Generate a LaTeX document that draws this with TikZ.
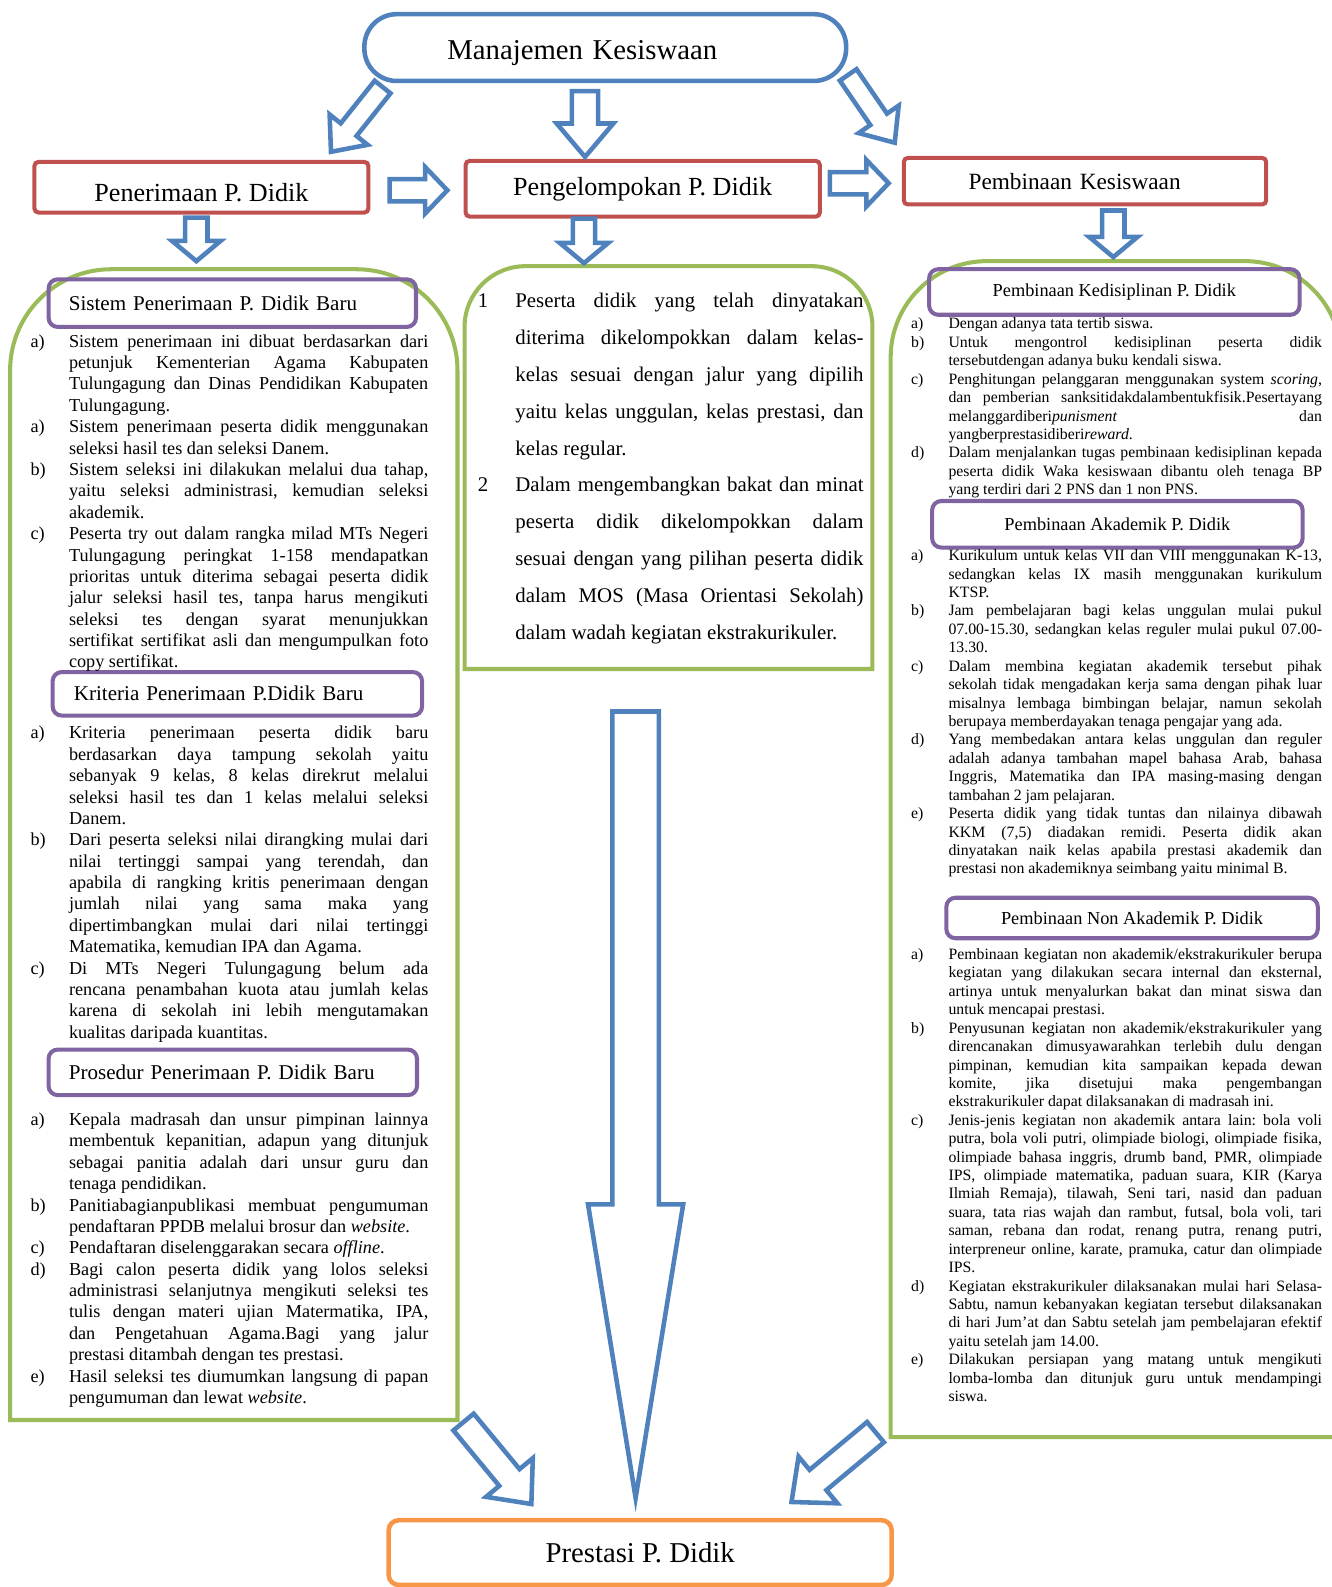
\documentclass[tikz,border=0pt]{standalone}
\usepackage{fontspec}
\setmainfont{Liberation Serif}
\usetikzlibrary{positioning,calc}
\definecolor{biru}{HTML}{4F81BD}
\definecolor{merah}{HTML}{C0504D}
\definecolor{hijau}{HTML}{9BBB59}
\definecolor{ungu}{HTML}{8064A2}
\definecolor{oranye}{HTML}{F79646}
\tikzset{
  kotak/.style={draw=merah,line width=4pt,rounded corners=4pt,fill=white,inner sep=0pt,font=\fontsize{25.8}{30}\selectfont},
  subjudul/.style={draw=ungu,line width=4pt,rounded corners=9pt,inner sep=0pt,align=center,minimum width=366pt,font=\fontsize{18.1}{21}\selectfont},
  subkiri/.style={subjudul,align=left,font=\fontsize{20.8}{24}\selectfont},
  wadah/.style={draw=hijau,line width=4pt},
  panah/.style={draw=biru,line width=4.5pt,fill=white,line join=miter},
  isi/.style={inner sep=0pt,anchor=base west},
}
\newlength\jorok
\newcommand\butir[2]{\par\noindent\hangindent=\jorok\makebox[\jorok][l]{#1}#2\par}
\newcommand\fkiri{\fontsize{18}{21.13}\selectfont\setlength\jorok{38pt}}
\newcommand\ftengah{\fontsize{20.6}{36.4}\selectfont\setlength\jorok{37pt}}
\newcommand\fkanan{\fontsize{15.6}{18.2}\selectfont\setlength\jorok{37pt}}
% #1 dari, #2 ke, #3 setengah batang, #4 setengah kepala, #5 panjang kepala
\newcommand\panahblok[5]{%
  \draw[panah] let \p1=($(#2)-(#1)$),\n1={atan2(\y1,\x1)},\n2={veclen(\x1,\y1)} in
    [shift={(#1)},rotate=\n1]
    (0pt,-#3pt) -- ({\n2-#5pt},-#3pt) -- ({\n2-#5pt},-#4pt) -- ({\n2+0pt},0pt)
    -- ({\n2-#5pt},#4pt) -- ({\n2-#5pt},#3pt) -- (0pt,#3pt) -- cycle;}
\hyphenpenalty=10000 \exhyphenpenalty=10000 \tolerance=10000 \hbadness=10000
\frenchspacing

\begin{document}
\begin{tikzpicture}[x=1pt,y=-1pt,
  judul/.style={draw=biru,line width=4.5pt,rounded corners=32pt,minimum width=476pt,minimum height=66pt,font=\fontsize{28.4}{32}\selectfont},
  hasil/.style={draw=oranye,line width=4.5pt,rounded corners=10pt,minimum width=497pt,minimum height=64pt,font=\fontsize{28.4}{32}\selectfont}]
  \useasboundingbox (0,0) rectangle (1316,1568);
  % wadah hijau
  \draw[wadah] (452,1403) -- (10,1403) -- (10,700) [rounded corners=100pt] -- (10,266) -- (452,266) -- (452,700) [sharp corners] -- cycle;
  \draw[wadah] (862,661) -- (459,661) -- (459,450) [rounded corners=60pt] -- (459,263) -- (862,263) -- (862,450) [sharp corners] -- cycle;
  \draw[wadah] (1325,1420) -- (880,1420) -- (880,800) [rounded corners=95pt] -- (880,258) -- (1325,258) -- (1325,800) [sharp corners] -- cycle;

  \node[judul,text width=312pt,align=left,text height=29.6pt,text depth=6.2pt] (mk) at (598,47) {Manajemen Kesiswaan};
  \node[kotak,minimum width=330pt,minimum height=50pt,text height=27.8pt,text depth=0pt] (terima) at (199,185) {Penerimaan P. Didik};
  \node[kotak,minimum width=350pt,minimum height=55pt] (kelompok) at (635,186.5) {Pengelompokan P. Didik};
  \node[kotak,minimum width=358pt,minimum height=46pt,text width=230pt,align=left,font=\fontsize{23}{27}\selectfont] (bina) at (1072,179) {Pembinaan Kesiswaan};
  \node[hasil] (prestasi) at (632.5,1534) {Prestasi P. Didik};

  \node[subkiri,minimum width=363pt,minimum height=47pt,text width=323pt] (sps) at (229.5,299.5) {Sistem Penerimaan P. Didik Baru};
  \node[subkiri,minimum width=365pt,minimum height=43pt,text width=323pt] (kps) at (234.5,685.5) {Kriteria Penerimaan P.Didik Baru};
  \node[subkiri,minimum width=364pt,minimum height=45pt,text width=324pt] (pps) at (230,1059.5) {Prosedur Penerimaan P. Didik Baru};
  \node[subjudul,minimum height=45pt] (pkd) at (1101,288.5) {Pembinaan Kedisiplinan P. Didik};
  \node[subjudul,minimum height=46pt] (pak) at (1104,518) {Pembinaan Akademik P. Didik};
  \node[subjudul,minimum width=367pt,minimum height=40pt] (pna) at (1118.5,907) {Pembinaan Non Akademik P. Didik};

  \node[isi] (tsps) at (30,343) {\begin{minipage}[t]{393pt}\fkiri
    \butir{a)}{Sistem penerimaan ini dibuat berdasarkan dari\linebreak petunjuk Kementerian Agama Kabupaten\linebreak Tulungagung dan Dinas Pendidikan Kabupaten\linebreak Tulungagung.}
    \butir{a)}{Sistem penerimaan peserta didik menggunakan\linebreak seleksi hasil tes dan seleksi Danem.}
    \butir{b)}{Sistem seleksi ini dilakukan melalui dua tahap,\linebreak yaitu seleksi administrasi, kemudian seleksi\linebreak akademik.}
    \butir{c)}{Peserta try out dalam rangka milad MTs Negeri\linebreak Tulungagung peringkat 1-158 mendapatkan\linebreak prioritas untuk diterima sebagai peserta didik\linebreak jalur seleksi hasil tes, tanpa harus mengikuti\linebreak seleksi tes dengan syarat menunjukkan\linebreak sertifikat sertifikat asli dan mengumpulkan foto\linebreak copy sertifikat.}
  \end{minipage}};
  \node[isi] (tkps) at (30,730) {\begin{minipage}[t]{393pt}\fkiri
    \butir{a)}{Kriteria penerimaan peserta didik baru\linebreak berdasarkan daya tampung sekolah yaitu\linebreak sebanyak 9 kelas, 8 kelas direkrut melalui\linebreak seleksi hasil tes dan 1 kelas melalui seleksi\linebreak Danem.}
    \butir{b)}{Dari peserta seleksi nilai dirangking mulai dari\linebreak nilai tertinggi sampai yang terendah, dan\linebreak apabila di rangking kritis penerimaan dengan\linebreak jumlah nilai yang sama maka yang\linebreak dipertimbangkan mulai dari nilai tertinggi\linebreak Matematika, kemudian IPA dan Agama.}
    \butir{c)}{Di MTs Negeri Tulungagung belum ada\linebreak rencana penambahan kuota atau jumlah kelas\linebreak karena di sekolah ini lebih mengutamakan\linebreak kualitas daripada kuantitas.}
  \end{minipage}};
  \node[isi] (tpps) at (30,1112) {\begin{minipage}[t]{393pt}\fkiri
    \butir{a)}{Kepala madrasah dan unsur pimpinan lainnya\linebreak membentuk kepanitian, adapun yang ditunjuk\linebreak sebagai panitia adalah dari unsur guru dan\linebreak tenaga pendidikan.}
    \butir{b)}{Panitiabagianpublikasi membuat pengumuman\linebreak pendaftaran PPDB melalui brosur dan \textit{website}.}
    \butir{c)}{Pendaftaran diselenggarakan secara \textit{offline}.}
    \butir{d)}{Bagi calon peserta didik yang lolos seleksi\linebreak administrasi selanjutnya mengikuti seleksi tes\linebreak tulis dengan materi ujian Matermatika, IPA,\linebreak dan Pengetahuan Agama.Bagi yang jalur\linebreak prestasi ditambah dengan tes prestasi.}
    \butir{e)}{Hasil seleksi tes diumumkan langsung di papan\linebreak pengumuman dan lewat \textit{website}.}
  \end{minipage}};
  \node[isi] (tkel) at (472,304) {\begin{minipage}[t]{381pt}\ftengah
    \butir{1}{Peserta didik yang telah dinyatakan\linebreak diterima dikelompokkan dalam kelas-\linebreak kelas sesuai dengan jalur yang dipilih\linebreak yaitu kelas unggulan, kelas prestasi, dan\linebreak kelas regular.}
    \butir{2}{Dalam mengembangkan bakat dan minat\linebreak peserta didik dikelompokkan dalam\linebreak sesuai dengan yang pilihan peserta didik\linebreak dalam MOS (Masa Orientasi Sekolah)\linebreak dalam wadah kegiatan ekstrakurikuler.}
  \end{minipage}};
  \node[isi] (tpkd) at (900,325) {\begin{minipage}[t]{406pt}\fkanan
    \butir{a)}{Dengan adanya tata tertib siswa.}
    \butir{b)}{Untuk mengontrol kedisiplinan peserta didik\linebreak tersebutdengan adanya buku kendali siswa.}
    \butir{c)}{Penghitungan pelanggaran menggunakan system \textit{scoring},\linebreak dan pemberian sanksitidakdalambentukfisik.Pesertayang\linebreak melanggardiberi\textit{punisment} dan\linebreak yangberprestasidiberi\textit{reward}.}
    \butir{d)}{Dalam menjalankan tugas pembinaan kedisiplinan kepada\linebreak peserta didik Waka kesiswaan dibantu oleh tenaga BP\linebreak yang terdiri dari 2 PNS dan 1 non PNS.}
  \end{minipage}};
  \node[isi] (tpak) at (900,554) {\begin{minipage}[t]{406pt}\fkanan
    \butir{a)}{Kurikulum untuk kelas VII dan VIII menggunakan K-13,\linebreak sedangkan kelas IX masih menggunakan kurikulum\linebreak KTSP.}
    \butir{b)}{Jam pembelajaran bagi kelas unggulan mulai pukul\linebreak 07.00-15.30, sedangkan kelas reguler mulai pukul 07.00-\linebreak 13.30.}
    \butir{c)}{Dalam membina kegiatan akademik tersebut pihak\linebreak sekolah tidak mengadakan kerja sama dengan pihak luar\linebreak misalnya lembaga bimbingan belajar, namun sekolah\linebreak berupaya memberdayakan tenaga pengajar yang ada.}
    \butir{d)}{Yang membedakan antara kelas unggulan dan reguler\linebreak adalah adanya tambahan mapel bahasa Arab, bahasa\linebreak Inggris, Matematika dan IPA masing-masing dengan\linebreak tambahan 2 jam pelajaran.}
    \butir{e)}{Peserta didik yang tidak tuntas dan nilainya dibawah\linebreak KKM (7,5) diadakan remidi. Peserta didik akan\linebreak dinyatakan naik kelas apabila prestasi akademik dan\linebreak prestasi non akademiknya seimbang yaitu minimal B.}
  \end{minipage}};
  \node[isi] (tpna) at (900,948) {\begin{minipage}[t]{406pt}\fkanan
    \butir{a)}{Pembinaan kegiatan non akademik/ekstrakurikuler berupa\linebreak kegiatan yang dilakukan secara internal dan eksternal,\linebreak artinya untuk menyalurkan bakat dan minat siswa dan\linebreak untuk mencapai prestasi.}
    \butir{b)}{Penyusunan kegiatan non akademik/ekstrakurikuler yang\linebreak direncanakan dimusyawarahkan terlebih dulu dengan\linebreak pimpinan, kemudian kita sampaikan kepada dewan\linebreak komite, jika disetujui maka pengembangan\linebreak ekstrakurikuler dapat dilaksanakan di madrasah ini.}
    \butir{c)}{Jenis-jenis kegiatan non akademik antara lain: bola voli\linebreak putra, bola voli putri, olimpiade biologi, olimpiade fisika,\linebreak olimpiade bahasa inggris, drumb band, PMR, olimpiade\linebreak IPS, olimpiade matematika, paduan suara, KIR (Karya\linebreak Ilmiah Remaja), tilawah, Seni tari, nasid dan paduan\linebreak suara, tata rias wajah dan rambut, futsal, bola voli, tari\linebreak saman, rebana dan rodat, renang putra, renang putri,\linebreak interpreneur online, karate, pramuka, catur dan olimpiade\linebreak IPS.}
    \butir{d)}{Kegiatan ekstrakurikuler dilaksanakan mulai hari Selasa-\linebreak Sabtu, namun kebanyakan kegiatan tersebut dilaksanakan\linebreak di hari Jum’at dan Sabtu setelah jam pembelajaran efektif\linebreak yaitu setelah jam 14.00.}
    \butir{e)}{Dilakukan persiapan yang matang untuk mengikuti\linebreak lomba-lomba dan ditunjuk guru untuk mendampingi\linebreak siswa.}
  \end{minipage}};

  % ujung panah blok
  \coordinate (mk1) at (378,86);   \coordinate (terima1) at (327,150);
  \coordinate (mk2) at (578,90);   \coordinate (kelompok1) at (578,155);
  \coordinate (mk3) at (838,74);   \coordinate (bina1) at (884,141);
  \coordinate (terima2) at (385,188); \coordinate (kelompok2) at (442,188);
  \coordinate (kelompok3) at (820,181); \coordinate (bina2) at (878,181);
  \coordinate (terima3) at (194,215); \coordinate (sps1) at (194,258);
  \coordinate (kelompok4) at (577,216); \coordinate (tkel1) at (577,260);
  \coordinate (bina3) at (1100,208); \coordinate (pkd1) at (1100,254);
  \coordinate (tkel2) at (628,703); \coordinate (prestasi1) at (628,1480);
  \coordinate (tpps1) at (458,1405); \coordinate (prestasi2) at (525,1486);
  \coordinate (tpna1) at (865,1415); \coordinate (prestasi3) at (782,1484);
  \panahblok{mk1}{terima1}{10}{24}{28}
  \panahblok{mk2}{kelompok1}{13}{28}{33}
  \panahblok{mk3}{bina1}{10}{24}{28}
  \panahblok{terima2}{kelompok2}{11}{23}{22}
  \panahblok{kelompok3}{bina2}{11}{23}{22}
  \panahblok{terima3}{sps1}{11}{24}{20}
  \panahblok{kelompok4}{tkel1}{11}{24}{20}
  \panahblok{bina3}{pkd1}{11}{24}{20}
  \panahblok{tkel2}{prestasi1}{23}{47}{290}
  \panahblok{tpps1}{prestasi2}{13}{30}{34}
  \panahblok{tpna1}{prestasi3}{13}{30}{34}
\end{tikzpicture}
\end{document}
